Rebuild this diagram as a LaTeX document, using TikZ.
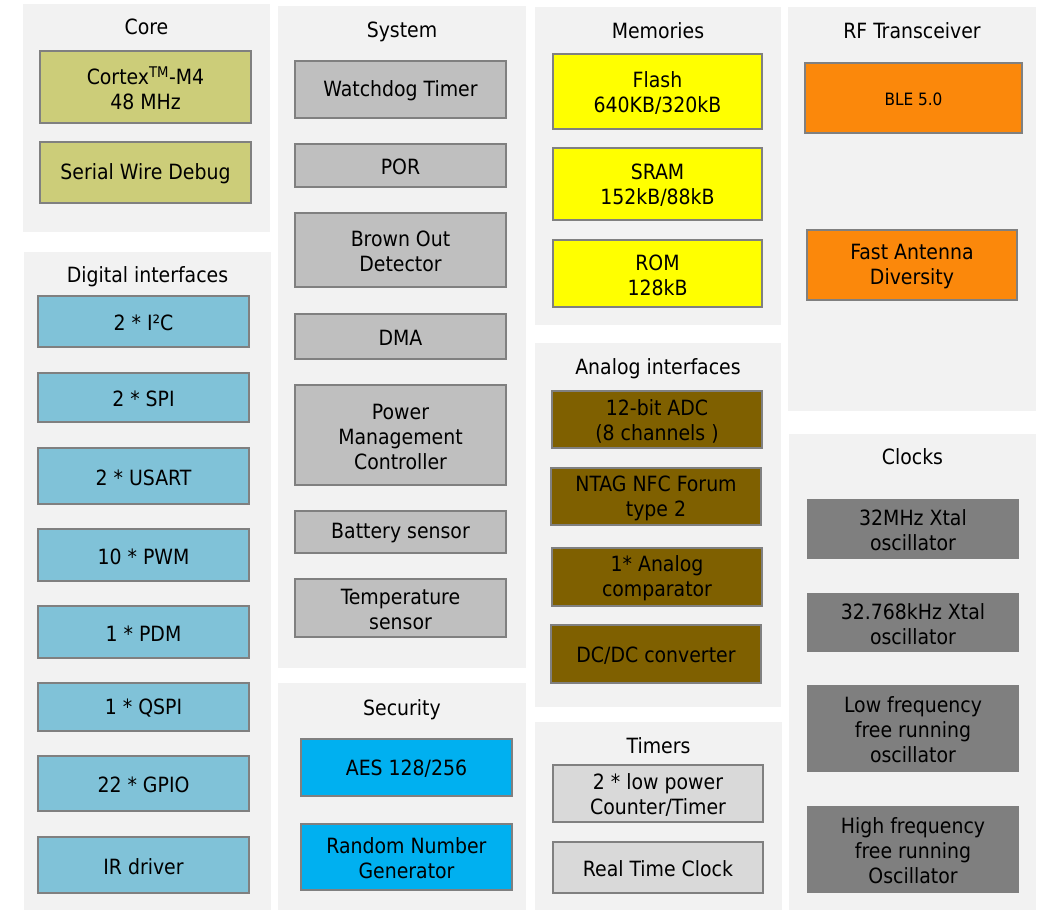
\documentclass[tikz,border=0pt]{standalone}
\usepackage{fontspec}
\setmainfont{DejaVu Sans Condensed}
\definecolor{panelbg}{HTML}{F2F2F2}
\definecolor{bordergray}{HTML}{808080}
\definecolor{corecol}{HTML}{CCCD79}
\definecolor{digcol}{HTML}{80C2D8}
\definecolor{syscol}{HTML}{BFBFBF}
\definecolor{seccol}{HTML}{00B0F0}
\definecolor{memcol}{HTML}{FFFF00}
\definecolor{anacol}{HTML}{7F6000}
\definecolor{timcol}{HTML}{D9D9D9}
\definecolor{rfcol}{HTML}{FB880B}
\definecolor{clkcol}{HTML}{7F7F7F}
\tikzset{
  panel/.style={fill=panelbg, draw=none, inner sep=0pt, rectangle},
  ptitle/.style={font=\fontsize{21}{25}\selectfont, inner sep=0pt, text=black},
  blk/.style={draw=bordergray, line width=2pt, rectangle, inner sep=0pt},
  lbl/.style={align=center, inner sep=0pt, font=\fontsize{21}{25}\selectfont, text=black},
  corebox/.style={blk, fill=corecol},
  digbox/.style={blk, fill=digcol},
  sysbox/.style={blk, fill=syscol},
  secbox/.style={blk, fill=seccol},
  membox/.style={blk, fill=memcol},
  anabox/.style={blk, fill=anacol},
  timbox/.style={blk, fill=timcol},
  rfbox/.style={blk, fill=rfcol},
  clkbox/.style={blk, fill=clkcol, draw=none},
}
\newcommand\bx[8][]{%
  \node[#3, minimum width={(#6-#4-2)*1pt}, minimum height={(#7-#5-2)*1pt}] (#2)
    at ({(#4+#6)/2},{(#5+#7)/2}) {};
  \node[lbl, #1] (#2-l) at ([yshift=-1.5pt]#2.center) {#8};}
\newcommand\pn[7]{%
  \node[panel, minimum width={(#4-#2)*1pt}, minimum height={(#5-#3)*1pt}] (#1)
    at ({(#2+#4)/2},{(#3+#5)/2}) {};
  \node[ptitle, anchor=base] (#1-t) at ({(#2+#4)/2},{#7+7.5}) {#6};}
\begin{document}
\begin{tikzpicture}[x=1pt,y=-1pt]
\useasboundingbox[fill=white] (0,0) rectangle (1041,910);
% panels
\pn{core}{23}{4}{270}{232}{Core}{27}
\pn{dig}{24}{252}{271}{910}{Digital interfaces}{275}
\pn{sys}{278}{6}{526}{668}{System}{30}
\pn{sec}{278}{683}{526}{910}{Security}{708}
\pn{mem}{535}{7}{781}{325}{Memories}{31}
\pn{ana}{535}{343}{781}{707}{Analog interfaces}{367}
\pn{tim}{535}{722}{782}{910}{Timers}{746}
\pn{rf}{788}{7}{1036}{411}{RF Transceiver}{31}
\pn{clk}{789}{434}{1036}{910}{Clocks}{457}
% core
\bx{cortex}{corebox}{39}{50}{252}{124}{Cortex\textsuperscript{TM}-M4\\48 MHz}
\bx{swd}{corebox}{39}{141}{252}{204}{Serial Wire Debug}
% digital
\bx{i2c}{digbox}{37}{295}{250}{348}{2 * I²C}
\bx{spi}{digbox}{37}{372}{250}{423}{2 * SPI}
\bx{usart}{digbox}{37}{447}{250}{505}{2 * USART}
\bx{pwm}{digbox}{37}{528}{250}{582}{10 * PWM}
\bx{pdm}{digbox}{37}{605}{250}{659}{1 * PDM}
\bx{qspi}{digbox}{37}{682}{250}{732}{1 * QSPI}
\bx{gpio}{digbox}{37}{755}{250}{812}{22 * GPIO}
\bx{ir}{digbox}{37}{836}{250}{894}{IR driver}
% system
\bx{wdt}{sysbox}{294}{60}{507}{119}{Watchdog Timer}
\bx{por}{sysbox}{294}{143}{507}{188}{POR}
\bx{bod}{sysbox}{294}{212}{507}{288}{Brown Out\\Detector}
\bx{dma}{sysbox}{294}{313}{507}{360}{DMA}
\bx{pmc}{sysbox}{294}{384}{507}{486}{Power\\Management\\Controller}
\bx{bat}{sysbox}{294}{510}{507}{554}{Battery sensor}
\bx{temp}{sysbox}{294}{578}{507}{638}{Temperature\\sensor}
% security
\bx{aes}{secbox}{300}{738}{513}{797}{AES 128/256}
\bx{rng}{secbox}{300}{823}{513}{891}{Random Number\\Generator}
% memories
\bx{flash}{membox}{552}{53}{763}{130}{Flash\\640KB/320kB}
\bx{sram}{membox}{552}{147}{763}{221}{SRAM\\152kB/88kB}
\bx{rom}{membox}{552}{239}{763}{308}{ROM\\128kB}
% analog
\bx{adc}{anabox}{551}{390}{763}{449}{12-bit ADC\\(8 channels )}
\bx{ntag}{anabox}{550}{467}{762}{526}{NTAG NFC Forum\\type 2}
\bx{comp}{anabox}{551}{547}{763}{607}{1* Analog\\comparator}
\bx{dcdc}{anabox}{550}{624}{762}{684}{DC/DC converter}
% timers
\bx{cnt}{timbox}{552}{764}{764}{823}{2 * low power\\Counter/Timer}
\bx{rtc}{timbox}{552}{841}{764}{894}{Real Time Clock}
% rf
\bx[font=\fontsize{17}{21}\selectfont]{ble}{rfbox}{804}{62}{1023}{134}{BLE 5.0}
\bx{fad}{rfbox}{806}{229}{1018}{301}{Fast Antenna\\Diversity}
% clocks
\bx{xm}{clkbox}{806}{498}{1020}{560}{32MHz Xtal\\oscillator}
\bx{xk}{clkbox}{806}{592}{1020}{653}{32.768kHz Xtal\\oscillator}
\bx{lf}{clkbox}{806}{684}{1020}{773}{Low frequency\\free running\\oscillator}
\bx{hf}{clkbox}{806}{805}{1020}{894}{High frequency\\free running\\Oscillator}
\end{tikzpicture}
\end{document}
